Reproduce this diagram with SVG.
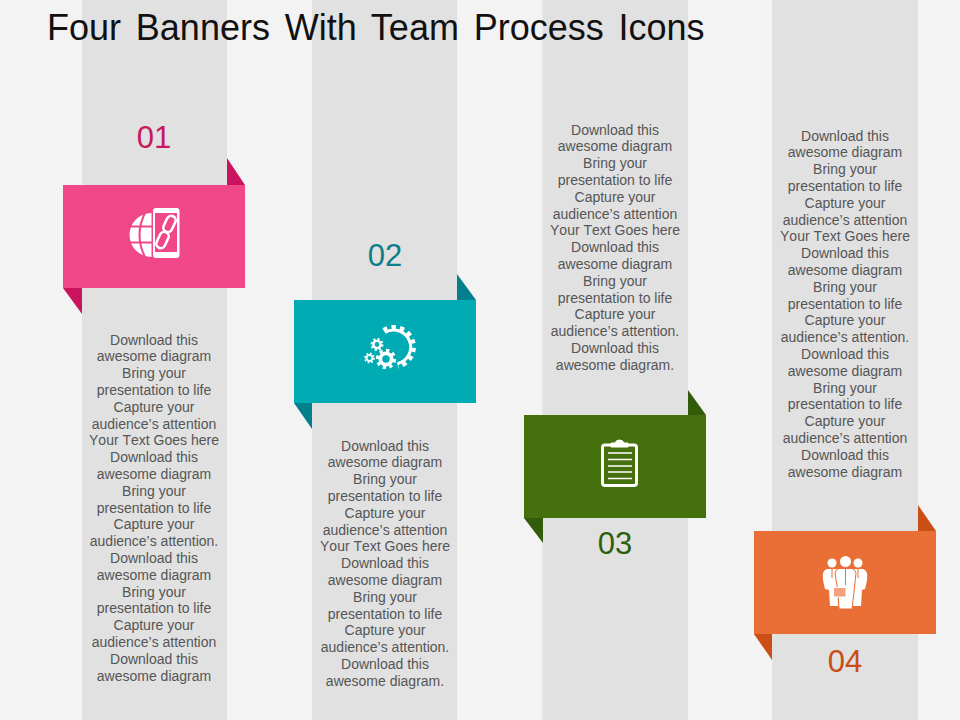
<svg xmlns="http://www.w3.org/2000/svg" xmlns:xlink="http://www.w3.org/1999/xlink" width="960" height="720" viewBox="0 0 960 720">
<defs>
<style>
text{font-family:"Liberation Sans",Arial,sans-serif}
.body{font-size:14px;fill:#555;text-anchor:middle;font-kerning:none}
.num{font-size:31px;text-anchor:middle}
.strip{fill:#e1e1e1}
.w{fill:#fff}
.ws{fill:none;stroke:#fff}
</style>
<g id="gear"><circle r="5" fill="none" stroke="#fff" stroke-width="3.4"/><circle r="7.6" fill="none" stroke="#fff" stroke-width="2.8" pathLength="16" stroke-dasharray="1 1"/></g>
</defs>
<rect width="960" height="720" fill="#f3f3f3"/>
<rect class="strip" x="82" width="145" height="720"/>
<rect class="strip" x="312" width="145" height="720"/>
<rect class="strip" x="542.500" width="145.500" height="720"/>
<rect class="strip" x="772" width="146" height="720"/>
<text x="47" y="40" font-size="36" word-spacing="4.800" fill="#111">Four Banners With Team Process Icons</text>

<g id="node-01">
<text class="num" x="154" y="148" fill="#c8175f">01</text>
<polygon points="227,158 245,185 227,185" fill="#cb1460"/>
<polygon points="63,288 82,288 82,314" fill="#cb1460"/>
<rect x="63" y="185" width="182" height="103" fill="#ef4787"/>
<g id="icon-01">
<path class="w" d="M151.500,213A22,22 0 0 0 151.500,257Z"/>
<path d="M128,226.500H152M128,242.500H152M146,211Q133,235 146,259" fill="none" stroke="#ef4787" stroke-width="2"/>
<rect class="w" x="153" y="208" width="26.500" height="50" rx="3"/>
<rect x="155" y="213" width="22" height="39" fill="#ef4787"/>
<g class="ws" stroke-width="2.600"><rect x="165" y="215.500" width="9" height="17" rx="4.500" transform="rotate(25 169.500 224)"/><rect x="158" y="231.500" width="9" height="17" rx="4.500" transform="rotate(25 162.500 240)"/></g>
</g>
</g>

<g id="node-02">
<text class="num" x="385" y="266" fill="#0b7f8a">02</text>
<polygon points="457,274 476,300 457,300" fill="#03808d"/>
<polygon points="294,403 312,403 312,429" fill="#03808d"/>
<rect x="294" y="300" width="182" height="103" fill="#01abb4"/>
<g id="icon-02">
<use xlink:href="#gear" transform="translate(377 344.500) scale(.72)"/>
<use xlink:href="#gear" transform="translate(369.500 358) scale(.6)"/>
<use xlink:href="#gear" transform="translate(386 359) scale(1.130)"/>
<path class="ws" stroke-width="3" d="M385,332.500A17,17 0 1 1 397.400,363.700"/>
<path class="ws" stroke-width="4" stroke-dasharray="4.300 4.300" d="M383.400,330A20,20 0 1 1 398,366.600"/>
</g>
</g>

<g id="node-03">
<text class="num" x="615" y="554" fill="#2c5f0c">03</text>
<polygon points="688,390 706,415 688,415" fill="#325c0c"/>
<polygon points="524,518 543,518 543,543" fill="#325c0c"/>
<rect x="524" y="415" width="182" height="103" fill="#44710d"/>
<g id="icon-03">
<rect class="ws" x="602.500" y="445" width="34" height="40.500" rx="2.500" stroke-width="3"/>
<path class="w" d="M611,447V443H615Q616,440 619.500,440Q623,440 624,443H628V447Z" stroke="#fff" stroke-width="1"/>
<g stroke="#fff" stroke-width="1.300"><path d="M608,453H632M608,459.500H632M608,466H632M608,472H632M608,478.500H632"/></g>
</g>
</g>

<g id="node-04">
<text class="num" x="845" y="672" fill="#c94d14">04</text>
<polygon points="918,505 936,531 918,531" fill="#c94f14"/>
<polygon points="754,634 772,634 772,660" fill="#c94f14"/>
<rect x="754" y="531" width="182" height="103" fill="#e96f37"/>
<g id="icon-04">
<g class="w">
<circle cx="832" cy="563" r="4.500"/><circle cx="858" cy="563" r="4.500"/><circle cx="845.500" cy="561.500" r="5.500"/>
<path d="M827,569H837L838,606H830L829,590L825,589Q822,578 823,573Q824,570 827,569Z"/>
<path d="M853,569H863Q866,570 867,573Q868,578 865,589L862,590L861,606H853Z"/>
<path d="M839,568.500H852Q855,569 856,573L854,592L852,609H839L838,592L835,573Q836,569 839,568.500Z" stroke="#e96f37" stroke-width="1"/>
</g>
<rect x="833.500" y="587.500" width="12.500" height="9.500" fill="#f3a27c" stroke="#fff"/>
<path d="M845.500,569V585M832,569V578M858,569V578" fill="none" stroke="#e96f37" stroke-width="1"/>
</g>
</g>

<g id="text-01" class="body">
<text x="154" y="344.600"><tspan x="154">Download this</tspan><tspan x="154" dy="16.800">awesome diagram</tspan><tspan x="154" dy="16.800">Bring your</tspan><tspan x="154" dy="16.800">presentation to life</tspan><tspan x="154" dy="16.800">Capture your</tspan><tspan x="154" dy="16.800">audience’s attention</tspan><tspan x="154" dy="16.800">Your Text Goes here</tspan><tspan x="154" dy="16.800">Download this</tspan><tspan x="154" dy="16.800">awesome diagram</tspan><tspan x="154" dy="16.800">Bring your</tspan><tspan x="154" dy="16.800">presentation to life</tspan><tspan x="154" dy="16.800">Capture your</tspan><tspan x="154" dy="16.800">audience’s attention.</tspan><tspan x="154" dy="16.800">Download this</tspan><tspan x="154" dy="16.800">awesome diagram</tspan><tspan x="154" dy="16.800">Bring your</tspan><tspan x="154" dy="16.800">presentation to life</tspan><tspan x="154" dy="16.800">Capture your</tspan><tspan x="154" dy="16.800">audience’s attention</tspan><tspan x="154" dy="16.800">Download this</tspan><tspan x="154" dy="16.800">awesome diagram</tspan></text>
</g>
<g id="text-02" class="body">
<text x="385" y="450.600"><tspan x="385">Download this</tspan><tspan x="385" dy="16.800">awesome diagram</tspan><tspan x="385" dy="16.800">Bring your</tspan><tspan x="385" dy="16.800">presentation to life</tspan><tspan x="385" dy="16.800">Capture your</tspan><tspan x="385" dy="16.800">audience’s attention</tspan><tspan x="385" dy="16.800">Your Text Goes here</tspan><tspan x="385" dy="16.800">Download this</tspan><tspan x="385" dy="16.800">awesome diagram</tspan><tspan x="385" dy="16.800">Bring your</tspan><tspan x="385" dy="16.800">presentation to life</tspan><tspan x="385" dy="16.800">Capture your</tspan><tspan x="385" dy="16.800">audience’s attention.</tspan><tspan x="385" dy="16.800">Download this</tspan><tspan x="385" dy="16.800">awesome diagram.</tspan></text>
</g>
<g id="text-03" class="body">
<text x="615" y="134.600"><tspan x="615">Download this</tspan><tspan x="615" dy="16.800">awesome diagram</tspan><tspan x="615" dy="16.800">Bring your</tspan><tspan x="615" dy="16.800">presentation to life</tspan><tspan x="615" dy="16.800">Capture your</tspan><tspan x="615" dy="16.800">audience’s attention</tspan><tspan x="615" dy="16.800">Your Text Goes here</tspan><tspan x="615" dy="16.800">Download this</tspan><tspan x="615" dy="16.800">awesome diagram</tspan><tspan x="615" dy="16.800">Bring your</tspan><tspan x="615" dy="16.800">presentation to life</tspan><tspan x="615" dy="16.800">Capture your</tspan><tspan x="615" dy="16.800">audience’s attention.</tspan><tspan x="615" dy="16.800">Download this</tspan><tspan x="615" dy="16.800">awesome diagram.</tspan></text>
</g>
<g id="text-04" class="body">
<text x="845" y="140.600"><tspan x="845">Download this</tspan><tspan x="845" dy="16.800">awesome diagram</tspan><tspan x="845" dy="16.800">Bring your</tspan><tspan x="845" dy="16.800">presentation to life</tspan><tspan x="845" dy="16.800">Capture your</tspan><tspan x="845" dy="16.800">audience’s attention</tspan><tspan x="845" dy="16.800">Your Text Goes here</tspan><tspan x="845" dy="16.800">Download this</tspan><tspan x="845" dy="16.800">awesome diagram</tspan><tspan x="845" dy="16.800">Bring your</tspan><tspan x="845" dy="16.800">presentation to life</tspan><tspan x="845" dy="16.800">Capture your</tspan><tspan x="845" dy="16.800">audience’s attention.</tspan><tspan x="845" dy="16.800">Download this</tspan><tspan x="845" dy="16.800">awesome diagram</tspan><tspan x="845" dy="16.800">Bring your</tspan><tspan x="845" dy="16.800">presentation to life</tspan><tspan x="845" dy="16.800">Capture your</tspan><tspan x="845" dy="16.800">audience’s attention</tspan><tspan x="845" dy="16.800">Download this</tspan><tspan x="845" dy="16.800">awesome diagram</tspan></text>
</g>
<g id="connectors"/>
</svg>
